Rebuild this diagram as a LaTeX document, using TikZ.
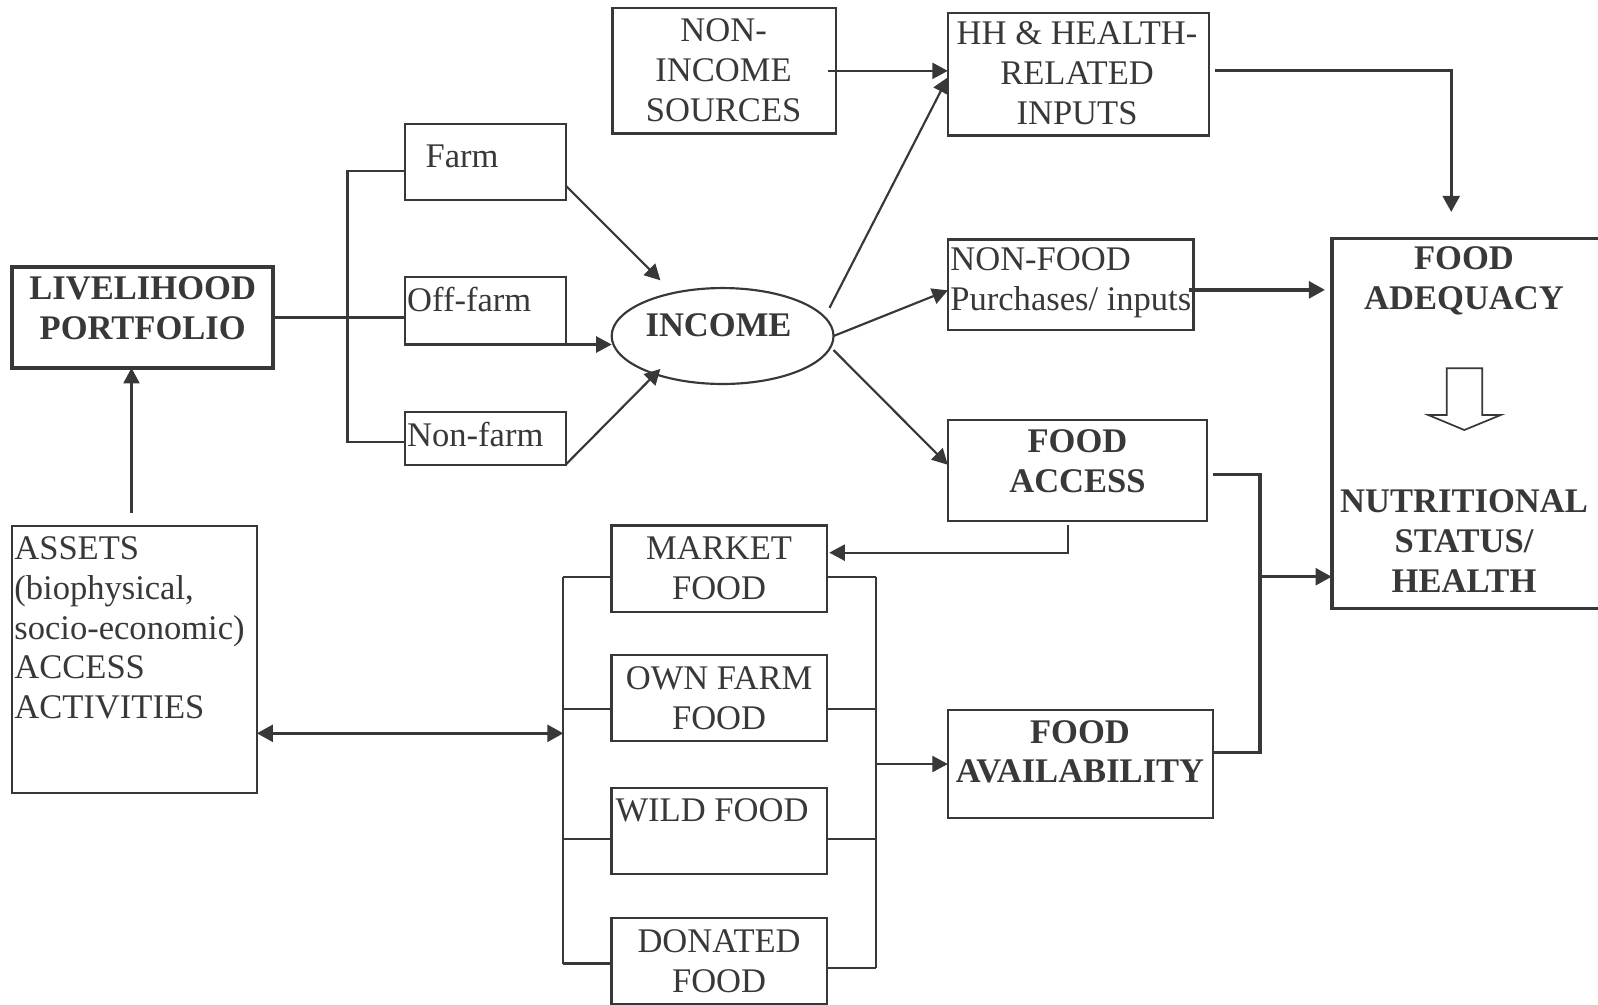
\documentclass[tikz,border=0pt]{standalone}
\usepackage{fontspec}
\setmainfont{Liberation Serif}
\usepackage{tikz}
\usetikzlibrary{arrows.meta,positioning,calc,fit,shapes.geometric}
\definecolor{Ink}{HTML}{38383B}
\newcommand{\boxfont}{\fontsize{12}{13.8}\selectfont}

\begin{document}
\begin{tikzpicture}[x=0.0122cm,y=-0.0122cm,
  box/.style={draw=Ink,line width=0.75pt,inner sep=0pt,outer sep=0pt},
  thkbox/.style={draw=Ink,line width=1.3pt,inner sep=0pt,outer sep=0pt},
  txt/.style={font=\boxfont,text=Ink,inner sep=0pt,align=center},
  bf/.style={txt,font=\boxfont\bfseries},
  ln/.style={draw=Ink,line width=0.75pt},
  thkln/.style={draw=Ink,line width=1.2pt},
  arr/.style={ln,-{Triangle[length=5.4pt,width=5.6pt]}},
  thkarr/.style={thkln,-{Triangle[length=5.6pt,width=5.8pt]}},
  dblarr/.style={thkln,{Triangle[length=5.6pt,width=5.8pt]}-{Triangle[length=5.6pt,width=5.8pt]}}]
  \useasboundingbox (0,0) rectangle (1598,1004);

  % portfolio, assets and the three income activities
  \node[thkbox,fit={(12.2,267) (273.1,367.9)}] (live) {};
  \node[bf] at (142.7,308.3) {LIVELIHOOD\\PORTFOLIO};
  \node[box,fit={(12.2,525.9) (256.8,792.9)}] (assets) {};
  \node[txt,align=left,anchor=west] at (13.8,628) {ASSETS\\(biophysical,\\socio-economic)\\ACCESS\\ACTIVITIES};
  \node[box,fit={(404.6,124.3) (565.6,199.7)}] (farm) {};
  \node[txt,anchor=west] at (425,156) {Farm};
  \node[box,fit={(404.6,277.2) (565.6,344.5)}] (off) {};
  \node[txt,anchor=west] at (406.6,299.6) {Off-farm};
  \node[box,fit={(404.6,411.7) (565.6,464.7)}] (non) {};
  \node[txt,anchor=west] at (406.6,434.1) {Non-farm};
  \node[ln,ellipse,minimum width=2.708cm,minimum height=1.171cm,inner sep=0pt,outer sep=0pt] (inc) at (722.6,336) {};
  \node[bf] at (718.5,325.1) {INCOME};

  % uses of income
  \node[box,fit={(612.5,8.2) (835.7,133.5)}] (nis) {};
  \node[txt] at (723.6,70) {NON-\\INCOME\\SOURCES};
  \node[box,fit={(947.8,13.2) (1208.7,135.5)}] (hh) {};
  \node[txt] at (1077,73.4) {HH \& HEALTH-\\RELATED\\INPUTS};
  \node[box,fit={(947.8,239.5) (1193.4,330.2)}] (nf) {};
  \node[txt,align=left,anchor=west] at (949.8,283) {NON-FOOD\\Purchases/ inputs};
  \node[box,fit={(947.8,419.9) (1206.7,520.8)}] (acc) {};
  \node[bf] at (1077.5,461) {FOOD\\ACCESS};
  \node[box,fit={(947.8,710) (1213.2,818)}] (avail) {};
  \node[bf] at (1080,751.7) {FOOD\\AVAILABILITY};
  \node[thkbox,fit={(1331.7,238.4) (1640,608.4)}] (adeq) {};
  \node[bf] at (1464,280.8) {FOOD\\ADEQUACY};
  \node[bf] at (1464,541) {NUTRITIONAL\\STATUS/\\HEALTH};
  \draw[Ink,line width=0.6pt] (1446.7,368.3) -- (1482.3,368.3) -- (1482.3,415) -- (1500.7,415)
    -- (1464.3,430) -- (1428.3,415) -- (1446.7,415) -- cycle;

  % food sources
  \coordinate (lb) at (563.4,576.7);
  \coordinate (rb) at (876.3,576.7);
  \foreach \n/\ty/\dl/\dr in {market/525.5/51.2/51.2, own/655.2/53.8/53.8,
                              wild/787.8/51.2/51.2, don/917.8/45.7/50.2} {
    \node[box,fit={(611.5,\ty) (826.7,\ty+86.1)}] (\n) {};
    \draw[ln] ($(\n.north west)+(0,\dl)$) -- ++(-48.1,0);
    \draw[ln] ($(\n.north east)+(0,\dr)$) -- ++(49.6,0);
  }
  \node[txt] at (market) {MARKET\\FOOD};
  \node[txt] at (own) {OWN FARM\\FOOD};
  \node[txt,anchor=west] at (615,810) {WILD FOOD};
  \node[txt] at (don) {DONATED\\FOOD};
  \draw[ln] (lb) -- ++(0,386.8);
  \draw[ln] (rb) -- ++(0,391.3);

  % connectors
  \draw[ln] (live.east) -- (live.east -| off.west);
  \draw[ln] ($(farm.north west)+(0,46.9)$) -- ++(-57.1,0) |- ($(non.north west)+(0,30.6)$);
  \draw[arr] ($(farm.south east)+(0,-14.2)$) -- ($(inc.center)+(-62.2,-55.7)$);
  \draw[arr] (off.south east) -- (off.south east -| inc.west);
  \draw[arr] (non.south east) -- ($(inc.center)+(-62.2,32.9)$);
  \draw[arr] ($(nis.east)+(-8,0)$) -- (nis.east -| hh.west);
  \draw[arr] ($(inc.center)+(106.9,-28.2)$) -- ($(hh.west)+(0,3)$);
  \draw[arr] (inc.east) -- ($(nf.west)+(0,5.5)$);
  \draw[arr] ($(inc.east)+(0,14)$) -- ($(acc.west)+(0,-5.6)$);
  \draw[arr] ($(acc.south)+(-9,4.2)$) |- ($(market.east)+(2.6,-15.9)$);
  \coordinate (au) at ($(assets.north)+(-3,-13.3)$);
  \draw[arr] (au) -- (au |- live.south);
  \coordinate (da) at ($(assets.south east)+(0,-59.6)$);
  \draw[dblarr] (da) -- (da -| lb);
  \draw[arr] (rb |- avail.west) -- (avail.west);

  \draw[thkarr] ($(hh.east)+(6,-4)$) -| ($(adeq.north west)+(119.5,-26.4)$);
  \coordinate (nfo) at ($(nf.east)+(-4,5)$);
  \draw[thkarr] (nfo) -- ($(nfo -| adeq.west)+(-6.7,0)$);
  \draw[thkln] ($(acc.east)+(6.6,4)$) -- ++(46.7,0) |- ($(avail.east)+(0,-11.3)$);
  \coordinate (fj) at (1260,576.7);
  \draw[thkarr] (fj) -- (fj -| adeq.west);
\end{tikzpicture}
\end{document}
